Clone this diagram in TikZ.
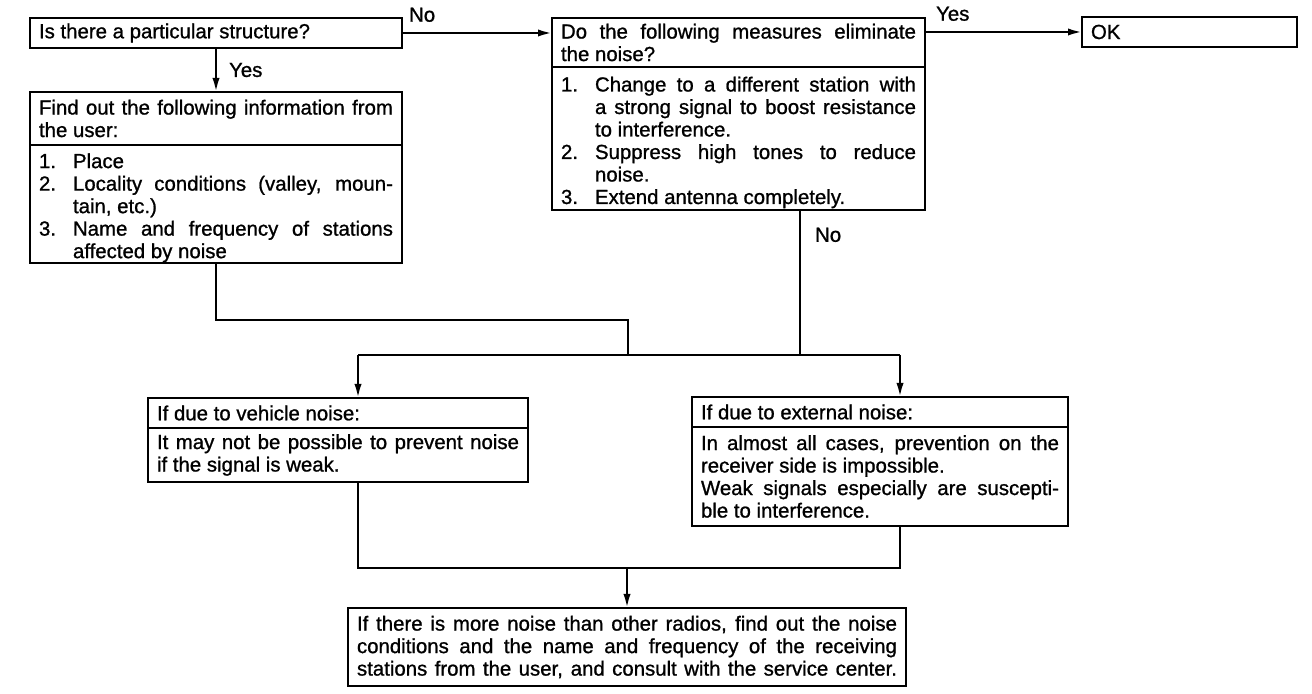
\documentclass[tikz,border=0pt]{standalone}
\usepackage{fontspec}
\setmainfont{Liberation Sans}[FakeBold=1]
\usetikzlibrary{positioning, arrows.meta}
\tolerance=10000
\hyphenpenalty=10000
\newenvironment{steps}{\begin{list}{}{\setlength\leftmargin{17pt}\setlength\labelwidth{17pt}%
    \setlength\labelsep{0pt}\setlength\itemsep{0pt}\setlength\parsep{0pt}%
    \setlength\topsep{0pt}\setlength\partopsep{0pt}\renewcommand\makelabel[1]{##1\hfil}}}{\end{list}}

\begin{document}
\begin{tikzpicture}[x=0.5pt, y=-0.5pt,
    box/.style={draw, line width=1.2pt, outer sep=0pt, align=justify, anchor=north west,
        inner xsep=4.5pt, inner ysep=1pt, text width=#1,
        font=\fontsize{10.2}{11.25}\selectfont},
    lbl/.style={font=\fontsize{10.2}{11.25}\selectfont, inner sep=1pt},
    line/.style={line width=1.1pt},
    tip/.style={-{Latex[length=7pt,width=3.6pt]}}]
    \useasboundingbox (0,0) rectangle (1312,694);
    % question boxes
    \node[box=177pt, minimum height=15pt] (Q1) at (30,18) {Is there a particular structure?};
    \node[box=177.5pt, minimum height=24.5pt] (Q2h) at (552,18) {Do the following measures eliminate\linebreak the noise?};
    \node[box=177.5pt, minimum height=71.5pt, below=0pt of Q2h] (Q2b) {%
        \begin{steps}
        \item[1.] Change to a different station with\linebreak a strong signal to boost resistance\linebreak to interference.
        \item[2.] Suppress high tones to reduce\linebreak noise.
        \item[3.] Extend antenna completely.
        \end{steps}};
    \node[box=98.5pt, minimum height=15pt] (OK) at (1082,17) {OK};
    % information from the user
    \node[box=177pt, minimum height=26.5pt] (I1) at (30,92) {Find out the following information from\linebreak the user:};
    \node[box=177pt, minimum height=59pt, inner ysep=0pt, below=0pt of I1] (I2) {%
        \begin{steps}
        \item[1.] Place
        \item[2.] Locality conditions (valley, moun-\linebreak tain, etc.)
        \item[3.] Name and frequency of stations\linebreak affected by noise
        \end{steps}\vspace{3pt}};
    % noise cases
    \node[box=181pt, minimum height=15pt] (V1) at (148,398) {If due to vehicle noise:};
    \node[box=181pt, minimum height=27pt, below=0pt of V1] (V2) {It may not be possible to prevent noise\linebreak if the signal is weak.};
    \node[box=179pt, minimum height=15pt] (E1) at (692,397) {If due to external noise:};
    \node[box=179pt, minimum height=49.5pt, below=0pt of E1] (E2) {In almost all cases, prevention on the\linebreak receiver side is impossible.\par\noindent Weak signals especially are suscepti-\linebreak ble to interference.};
    \node[box=270pt, minimum height=39pt] (F) at (348,608) {If there is more noise than other radios, find out the noise\linebreak conditions and the name and frequency of the receiving\linebreak stations from the user, and consult with the service center.\parfillskip=0pt\par};
    % junction points
    \coordinate (N1) at (800,355);
    \coordinate (J1) at (628,320);
    \coordinate (S1) at (358,355);
    \coordinate (S2) at (900,355);
    \coordinate (B1) at (358,568);
    \coordinate (B2) at (900,568);
    % connectors
    \draw[line, tip] (Q1.east) -- node[lbl, pos=0, above right, xshift=2pt, yshift=4pt]{No} (Q1.east -| Q2h.west);
    \draw[line, tip] (Q2h.east |- OK.west) -- node[lbl, pos=0, above right, xshift=4pt, yshift=4pt]{Yes} (OK.west);
    \draw[line, tip] (Q1.south) -- node[lbl, right=5pt]{Yes} (I1.north);
    \draw[line] (Q2b.south -| N1) -- node[lbl, pos=.17, right=6pt]{No} (N1);
    \draw[line] (I2.south) |- (J1) -- (J1 |- S1);
    \draw[line] (S1) -- (S2);
    \foreach \s/\b in {S1/V1, S2/E1}
    {
    \draw[line, tip] (\s) -- (\s |- \b.north);
    }
    \draw[line] (V2.south -| B1) -- (B1) -- (B2) -- (E2.south -| B2);
    \draw[line, tip] (F.north |- B1) -- (F.north);
\end{tikzpicture}
\end{document}
